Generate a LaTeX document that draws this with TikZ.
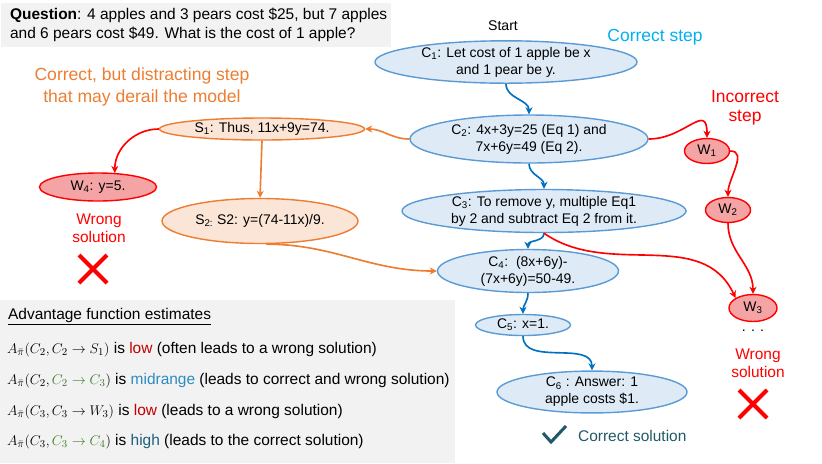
\documentclass[tikz,border=0pt]{standalone}
\usepackage{fontspec}
\setmainfont{Liberation Sans}
\usetikzlibrary{shapes.geometric,arrows.meta,calc}

\definecolor{cline}{RGB}{91,155,213}
\definecolor{cfill}{RGB}{222,235,247}
\definecolor{carr}{RGB}{0,112,192}
\definecolor{sline}{RGB}{237,125,49}
\definecolor{sfill}{RGB}{251,229,214}
\definecolor{wline}{RGB}{255,0,0}
\definecolor{wfill}{RGB}{244,164,164}
\definecolor{boxgray}{RGB}{242,242,242}
\definecolor{lowred}{RGB}{192,0,0}
\definecolor{midblue}{RGB}{46,139,192}
\definecolor{highteal}{RGB}{31,95,122}
\definecolor{okteal}{RGB}{33,89,104}
\definecolor{cgreen}{RGB}{59,125,35}
\definecolor{skycyan}{RGB}{0,176,240}

\newcommand{\ix}[1]{\textsubscript{#1}}
\newcommand{\bigtxt}{\fontsize{13.2}{16}\selectfont}

\begin{document}
\begin{tikzpicture}[x=0.03cm, y=-0.03cm,
    sz/.style 2 args={minimum width=#1*0.03cm, minimum height=#2*0.03cm},
    cstep/.style={ellipse, draw=cline, fill=cfill, line width=1.2pt, inner sep=0pt,
        align=center, font=\fontsize{11.9}{14.5}\selectfont},
    sstep/.style={cstep, draw=sline, fill=sfill},
    wstep/.style={cstep, draw=wline, fill=wfill},
    carrow/.style={draw=carr, line width=1.4pt, -{Stealth[length=6pt,width=6pt]}},
    sarrow/.style={carrow, draw=sline},
    warrow/.style={carrow, draw=wline},
    cross/.style={wline, line width=3.4pt}]

    \useasboundingbox (0,0) rectangle (822,463);

    % question and legend boxes
    \fill[boxgray] (1,3) rectangle (391,47);
    \node[anchor=west, align=left, font=\fontsize{13.2}{16.5}\selectfont] (question) at (6,25)
        {\textbf{Question}: 4 apples and 3 pears cost \$25, but 7 apples\\
         and 6 pears cost \$49. What is the cost of 1 apple?};
    \fill[boxgray] (0,300) rectangle (455,463);

    % correct chain
    \node[font=\fontsize{12}{14}\selectfont] (start) at (503,26) {Start};
    \node[font=\fontsize{14.9}{18}\selectfont, text=skycyan] (corrlbl) at (655,37) {Correct step};
    \node[cstep, sz={262}{39}] (c1) at (506,62) {C\ix{1}: Let cost of 1 apple be x\\and 1 pear be y.};
    \node[cstep, sz={238}{48}] (c2) at (529,139) {C\ix{2}: 4x+3y=25 (Eq 1) and\\7x+6y=49 (Eq 2).};
    \node[cstep, sz={284}{43}] (c3) at (544,211) {C\ix{3}: To remove y, multiple Eq1\\by 2 and subtract Eq 2 from it.};
    \node[cstep, sz={181}{43}] (c4) at (528,271) {C\ix{4}:\ \ (8x+6y)-\\(7x+6y)=50-49.};
    \node[cstep, sz={95}{21}] (c5) at (523,325) {C\ix{5}: x=1.};
    \node[cstep, sz={190}{34}] (c6) at (592,392) {C\ix{6} : Answer: 1\\apple costs \$1.};

    \draw[carrow] (c1.south) to[out=-90, in=90] (c2.north);
    \draw[carrow] (c2.south) to[out=-90, in=90] (c3.north);
    \draw[carrow] (c3.south) to[out=-90, in=90] (c4.north);
    \draw[carrow] (c4.south) to[out=-90, in=90] (c5.north);
    \draw[carrow] (c5.south) to[out=-90, in=90] (c6.north);

    \coordinate (tick) at (551,442);
    \draw[okteal, line width=2.6pt] (543,433) -- (tick) -- (566,426);
    \node[anchor=west, text=okteal, font=\bigtxt] (oklbl) at (574,436) {Correct solution};

    % distracting branch
    \node[align=center, text=sline, font=\fontsize{15}{19}\selectfont] (distlbl) at (142,87)
        {Correct, but distracting step\\that may derail the model};
    \node[sstep, sz={205}{22}] (s1) at (262,129) {S\ix{1}: Thus, 11x+9y=74.};
    \node[sstep, sz={196}{45}] (s2) at (260,221) {S\ix{2:} S2: y=(74-11x)/9.};
    \node[wstep, sz={117}{28}] (w4) at (98,187) {W\ix{4}: y=5.};

    \draw[sarrow] (c2.west) to[out=180, in=0] (s1.east);
    \draw[sarrow] (s1.south) -- (s2.north);
    \draw[sarrow] (s2.-75) to[out=0, in=180] (c4.west);
    \draw[warrow] (s1.west) to[out=180, in=90] (w4.40);

    \node[align=center, text=wline, font=\fontsize{13.2}{15.5}\selectfont] (wronga) at (99,228) {Wrong\\solution};
    \coordinate (xa) at (93,269);
    \draw[cross] ($(xa)+(-14,-14)$) -- ($(xa)+(14,14)$) ($(xa)+(14,-14)$) -- ($(xa)+(-14,14)$);

    % incorrect branch
    \node[align=center, text=wline, font=\fontsize{14.9}{16.5}\selectfont] (incorrlbl) at (745,108) {Incorrect\\step};
    \node[wstep, sz={45}{25}] (w1) at (707,151) {W\ix{1}};
    \node[wstep, sz={45}{25}] (w2) at (728,210) {W\ix{2}};
    \node[wstep, sz={48}{27}] (w3) at (753,308) {W\ix{3}};

    \draw[warrow] (c2.east) to[out=0, in=90, looseness=1.6] (w1.north);
    \draw[warrow] (w1.east) to[out=0, in=90] (w2.north);
    \draw[warrow] (w2.south) to[out=-90, in=90] (w3.north);
    \draw[warrow] (c3.south) to[out=-35, in=115] (w3.north west);

    \node[font=\fontsize{12}{14}\selectfont] (dots) at (753,331) {. . .};
    \node[align=center, text=wline, font=\fontsize{13.2}{15.5}\selectfont] (wrongb) at (758,363) {Wrong\\solution};
    \coordinate (xb) at (753,404);
    \draw[cross] ($(xb)+(-14,-14)$) -- ($(xb)+(14,14)$) ($(xb)+(14,-14)$) -- ($(xb)+(-14,14)$);

    % advantage estimates
    \node[anchor=west, font=\bigtxt] (advtitle) at (4,317) {\underline{Advantage function estimates}};
    \node[anchor=west, font=\bigtxt] (adv1) at (3,350)
        {$A_{\bar{\pi}}(C_2, C_2 \rightarrow S_1)$ is \textcolor{lowred}{low} (often leads to a wrong solution)};
    \node[anchor=west, font=\bigtxt] (adv2) at (3,381)
        {$A_{\bar{\pi}}(C_2, \textcolor{cgreen}{C_2 \rightarrow C_3})$ is \textcolor{midblue}{midrange} (leads to correct and wrong solution)};
    \node[anchor=west, font=\bigtxt] (adv3) at (3,412)
        {$A_{\bar{\pi}}(C_3, C_3 \rightarrow W_3)$ is \textcolor{lowred}{low} (leads to a wrong solution)};
    \node[anchor=west, font=\bigtxt] (adv4) at (3,442)
        {$A_{\bar{\pi}}(C_3, \textcolor{cgreen}{C_3 \rightarrow C_4})$ is \textcolor{highteal}{high} (leads to the correct solution)};
\end{tikzpicture}
\end{document}
